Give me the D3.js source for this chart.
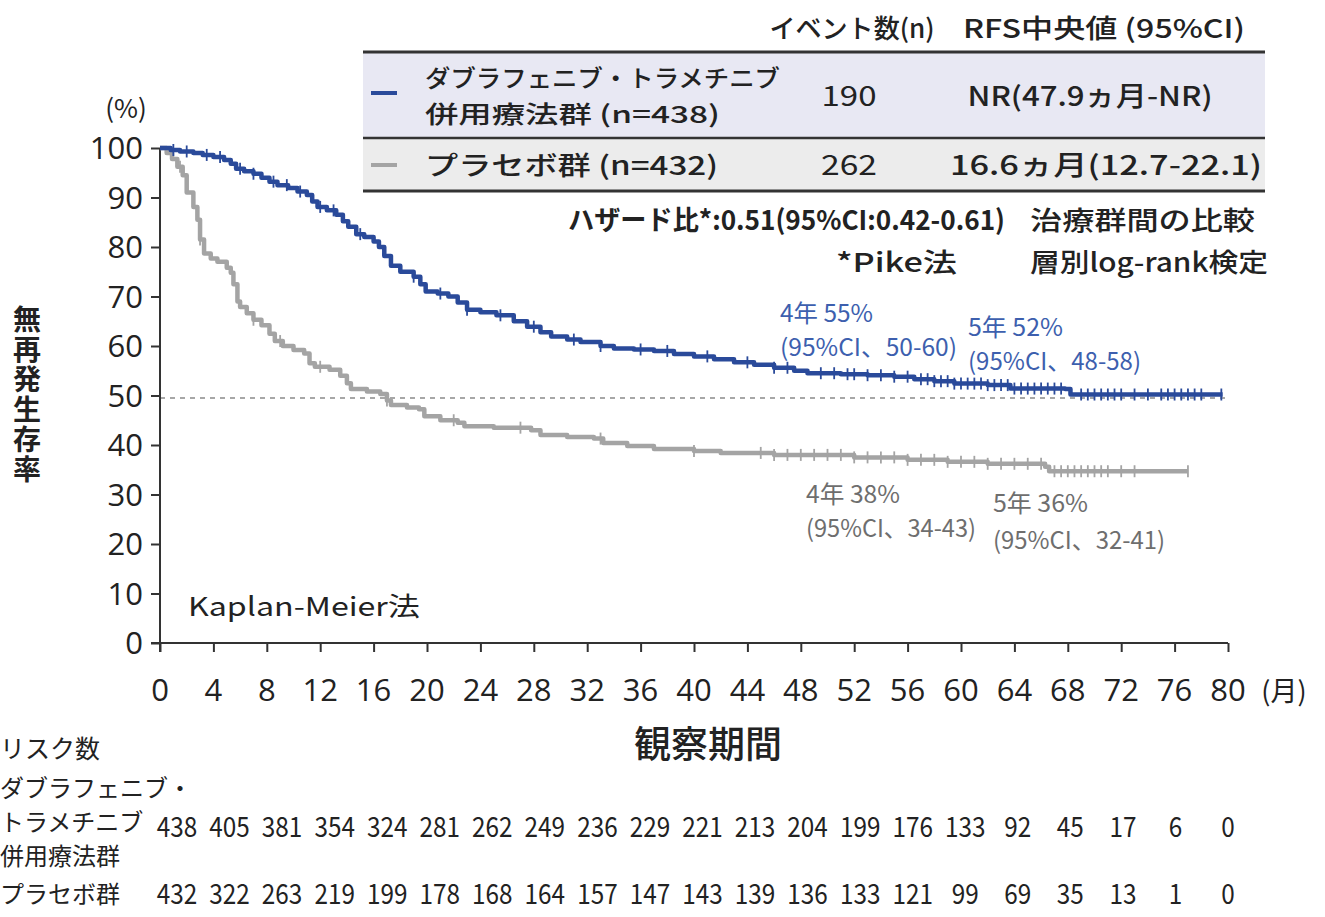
<!DOCTYPE html>
<html>
<head>
<meta charset="utf-8">
<script src="https://cdn.jsdelivr.net/npm/d3@7"></script>
<style>
  html, body { margin: 0; padding: 0; background: #fff; }
  svg { display: block; }
  text { font-family: "Noto Sans CJK JP", "Noto Sans", sans-serif; }
</style>
</head>
<body>
<svg id="chart" width="1325" height="917"></svg>
<script>
// ---------- DATA ----------
const xTicks = [0,4,8,12,16,20,24,28,32,36,40,44,48,52,56,60,64,68,72,76,80];
const yTicks = [0,10,20,30,40,50,60,70,80,90,100];

// Dabrafenib + Trametinib (months, RFS %)
const comboTime = [0,0.8,1.5,2.5,3.2,4.0,4.8,5.3,5.7,6.3,7.0,7.6,8.2,8.8,9.6,10.3,11.0,11.4,11.8,12.5,13.2,13.7,14.1,14.7,15.3,16.0,16.4,16.8,17.3,18.0,19.0,19.5,19.9,20.8,21.6,22.3,23.0,24.0,25.2,26.5,27.5,28.5,29.3,30.5,31.5,33.0,34.0,35.5,37.0,38.5,40.0,41.5,43.0,44.5,46.0,47.5,48.5,51.0,53.0,55.0,56.5,58.0,59.5,62.0,63.7,67.8,68.2,79.6];
const comboSurv = [100,99.6,99.3,99.0,98.6,98.2,97.6,96.8,95.8,95.3,94.8,94.0,93.2,92.5,91.9,91.2,90.5,89.2,88.1,87.4,86.5,85.2,84.1,82.6,82.0,81.1,80.0,78.2,76.2,75.0,74.0,72.5,71.0,70.6,70.0,68.8,67.3,66.8,66.2,65.0,63.9,62.8,61.9,61.3,60.8,60.0,59.5,59.3,59.0,58.4,57.9,57.3,56.7,56.2,55.6,55.0,54.5,54.3,54.1,53.8,53.3,52.9,52.4,52.1,51.4,51.3,50.2,50.2];
const comboCensor = [1,2,3.5,4.5,6,7,8.5,9.5,10.5,12,13,15,19,21,23,25.5,28,31,33,36,38,41,44,46,47,49.5,50.5,51.5,52,53,54,55,56,57,57.5,58,58.5,59,59.5,60,60.5,61,61.5,62,62.5,63,63.5,64,64.5,65,65.5,66,66.5,67,67.5,69,69.5,70,70.5,71,71.5,72,73,74,75,75.5,76,76.5,77,77.5,78,79.5];

// Placebo
const placeboTime = [0,0.5,0.9,1.3,1.7,2.0,2.5,2.8,3.0,3.3,3.8,4.3,5.0,5.3,5.5,5.8,6.0,6.5,7.0,7.6,8.2,8.6,9.2,10.0,10.8,11.2,11.6,12.7,13.5,14.0,14.3,15.5,16.5,17.0,17.3,18.5,19.4,19.8,21.0,22.3,22.8,25.0,27.8,28.5,30.5,32.5,33.2,35.0,37.0,40.0,42.0,46.0,52.0,56.0,59.0,62.0,66.3,66.6,77.0];
const placeboSurv = [100,99.0,97.8,96.2,94.5,91.0,88.1,85.5,81.5,78.7,77.7,77.0,75.8,74.8,72.5,69.0,67.9,66.6,65.3,64.2,62.5,61.0,60.0,59.2,58.5,56.5,55.8,55.2,54.0,52.5,51.3,50.8,50.3,49.0,48.1,47.6,47.2,45.8,45.0,44.5,43.8,43.5,43.0,42.0,41.6,41.3,40.4,39.8,39.2,38.8,38.4,38.0,37.5,37.0,36.6,36.2,35.6,34.7,34.7];
const placeboCensor = [1.5,3,7,9,12,17,22,27,33,40,45,46,47,48,49,50,51,52,53,54,55,56,57,58,59,60,61,62,63,64,65,66,67,67.5,68,68.5,69,69.5,70,70.5,71,72,73,77];

// Numbers at risk
const riskTimes = [0,4,8,12,16,20,24,28,32,36,40,44,48,52,56,60,64,68,72,76,80];
const riskCombo = [438,405,381,354,324,281,262,249,236,229,221,213,204,199,176,133,92,45,17,6,0];
const riskPlacebo = [432,322,263,219,199,178,168,164,157,147,143,139,136,133,121,99,69,35,13,1,0];

// Legend table
const groupNames = [["ダブラフェニブ・トラメチニブ","併用療法群 (n=438)"],["プラセボ群 (n=432)"]];
const groupEvents = ["190","262"];
const groupMedian = ["NR(47.9ヵ月-NR)","16.6ヵ月(12.7-22.1)"];

// ---------- DRAW ----------
const BLUE = "#2a4a9a", GRAY = "#a4a4a4", BLUE_TXT = "#3d5fae", GRAY_TXT = "#6e6e6e", INK = "#222";
const NUMFONT = "'Open Sans', 'Noto Sans', sans-serif";
const svg = d3.select("#chart");
const x = d3.scaleLinear().domain([0,80]).range([160,1228]);
const y = d3.scaleLinear().domain([0,100]).range([643,148]);

function txt(str, px, py, o = {}) {
  const t = svg.append("text").attr("x", px).attr("y", py).text(str)
    .attr("font-size", o.size || 26)
    .attr("fill", o.fill || INK)
    .attr("text-anchor", o.anchor || "start")
    .attr("font-weight", o.weight || 500);
  if (o.family) t.style("font-family", o.family);
  if (o.len) t.attr("textLength", o.len).attr("lengthAdjust", "spacingAndGlyphs");
  return t;
}
// multi-line text block as one text element
function block(lines, px, py, lh, o = {}) {
  const t = svg.append("text").attr("x", px).attr("y", py)
    .attr("font-size", o.size || 26).attr("fill", o.fill || INK)
    .attr("font-weight", o.weight || 500);
  lines.forEach((s, i) => {
    const sp = t.append("tspan").attr("x", px).attr("dy", i === 0 ? 0 : lh).text(s);
    if (o.lens && o.lens[i]) sp.attr("textLength", o.lens[i]).attr("lengthAdjust", "spacingAndGlyphs");
  });
  return t;
}

// 50% reference line
svg.append("line").attr("x1", x(0)).attr("x2", x(79.8)).attr("y1", y(49.5)).attr("y2", y(49.5))
  .attr("stroke", "#8a8a8a").attr("stroke-width", 1.4).attr("stroke-dasharray", "5,5");

// Axes
const gx = svg.append("g").attr("transform", `translate(0,${y(0)})`)
  .call(d3.axisBottom(x).tickValues(xTicks).tickSize(9).tickSizeOuter(0).tickFormat(""));
const gy = svg.append("g").attr("transform", `translate(${x(0)},0)`)
  .call(d3.axisLeft(y).tickValues(yTicks).tickSize(9).tickSizeOuter(0).tickFormat(""));
[gx, gy].forEach(g => {
  g.selectAll("path,line").attr("stroke", "#333").attr("stroke-width", 2);
});
gx.select("path").attr("d", `M${-9 + x(0)},0H${x(80)}`);
gy.select("path").attr("d", `M0,${y(0) + 9}V${y(100)}`);

// tick labels
xTicks.forEach(t => txt(String(t), x(t), 701, {size: 31, anchor: "middle", weight: 400, family: NUMFONT}));
yTicks.forEach(t => txt(String(t), 143, y(t) + 11, {size: 31, anchor: "end", weight: 400, family: NUMFONT}));
txt("(%)", 126, 118, {size: 26, anchor: "middle", weight: 400});
txt("(月)", 1284, 701, {size: 27, anchor: "middle", weight: 400});
txt("観察期間", 708, 758, {size: 37, anchor: "middle", weight: 500});

// y title vertical (single text, vertical writing)
svg.append("text").attr("x", 27).attr("y", 305).text("無再発生存率")
  .attr("font-size", 28).attr("font-weight", 700).attr("fill", INK)
  .style("writing-mode", "vertical-rl").style("letter-spacing", "2px");

// KM curves
const line = d3.line().x(d => x(d[0])).y(d => y(d[1])).curve(d3.curveStepAfter);
function stepAt(times, surv, t) {
  let v = surv[0];
  for (let i = 0; i < times.length; i++) { if (times[i] <= t) v = surv[i]; else break; }
  return v;
}
function drawCurve(times, surv, censor, color, w) {
  svg.append("path").datum(times.map((t, i) => [t, surv[i]]))
    .attr("fill", "none").attr("stroke", color).attr("stroke-width", w)
    .attr("stroke-linejoin", "round").attr("d", line);
  svg.append("g").selectAll("line").data(censor).join("line")
    .attr("x1", d => x(d)).attr("x2", d => x(d))
    .attr("y1", d => y(stepAt(times, surv, d)) - 6)
    .attr("y2", d => y(stepAt(times, surv, d)) + 6)
    .attr("stroke", color).attr("stroke-width", 1.8);
}
drawCurve(placeboTime, placeboSurv, placeboCensor, GRAY, 4.5);
drawCurve(comboTime, comboSurv, comboCensor, BLUE, 4.5);

// annotations
txt("Kaplan-Meier法", 188, 616, {size: 26, len: 232, weight: 400});
block(["4年 55%", "(95%CI、50-60)"], 780, 322, 34, {size: 24, fill: BLUE_TXT, weight: 400, lens: [93, 177]});
block(["5年 52%", "(95%CI、48-58)"], 968, 336, 34, {size: 24, fill: BLUE_TXT, weight: 400, lens: [95, 173]});
block(["4年 38%", "(95%CI、34-43)"], 806, 503, 34, {size: 24, fill: GRAY_TXT, weight: 400, lens: [94, 170]});
block(["5年 36%", "(95%CI、32-41)"], 993, 512, 37, {size: 24, fill: GRAY_TXT, weight: 400, lens: [95, 172]});

// legend table
svg.append("rect").attr("x", 363).attr("y", 53).attr("width", 902).attr("height", 84).attr("fill", "#e8e8f3");
svg.append("rect").attr("x", 363).attr("y", 139).attr("width", 902).attr("height", 51).attr("fill", "#ececec");
[[52, 3], [138, 2.5], [191, 3]].forEach(([yy, w]) =>
  svg.append("line").attr("x1", 363).attr("x2", 1265).attr("y1", yy).attr("y2", yy).attr("stroke", "#333").attr("stroke-width", w));
txt("イベント数(n)", 852, 38, {size: 26, anchor: "middle", len: 165});
txt("RFS中央値 (95%CI)", 1104, 38, {size: 26, anchor: "middle", len: 282});
svg.append("line").attr("x1", 371).attr("x2", 397).attr("y1", 93).attr("y2", 93).attr("stroke", BLUE).attr("stroke-width", 4);
svg.append("line").attr("x1", 371).attr("x2", 397).attr("y1", 165).attr("y2", 165).attr("stroke", GRAY).attr("stroke-width", 4);
block(groupNames[0], 425, 87, 35.5, {size: 24, lens: [355, 295]});
txt(groupNames[1][0], 425, 175, {size: 26, len: 293});
txt(groupEvents[0], 849, 106, {size: 28, anchor: "middle", len: 55, weight: 400});
txt(groupEvents[1], 849, 175, {size: 28, anchor: "middle", len: 56, weight: 400});
txt(groupMedian[0], 1090, 106, {size: 27, anchor: "middle", len: 245});
txt(groupMedian[1], 1106, 175, {size: 27, anchor: "middle", len: 312});

txt("ハザード比*:0.51(95%CI:0.42-0.61)", 1005, 230, {size: 27, anchor: "end", weight: 700, len: 437});
txt("*Pike法", 957, 272, {size: 26, anchor: "end", len: 121});
block(["治療群間の比較", "層別log-rank検定"], 1030, 230, 42, {size: 26, lens: [225, 238]});

// risk table
const rx = d3.scaleLinear().domain([0,80]).range([177,1228]);
txt("リスク数", 0, 758, {size: 25, weight: 400});
block(["ダブラフェニブ・", "トラメチニブ", "併用療法群"], 0, 797, 34, {size: 24, weight: 400});
txt("プラセボ群", 0, 903, {size: 24, weight: 400});
riskTimes.forEach((t, i) => {
  const w = String(riskCombo[i]).length;
  txt(String(riskCombo[i]), rx(t), 837, {size: 28, anchor: "middle", len: w * 13.5, weight: 400});
  const w2 = String(riskPlacebo[i]).length;
  txt(String(riskPlacebo[i]), rx(t), 904, {size: 28, anchor: "middle", len: w2 * 13.5, weight: 400});
});
</script>
</body>
</html>
